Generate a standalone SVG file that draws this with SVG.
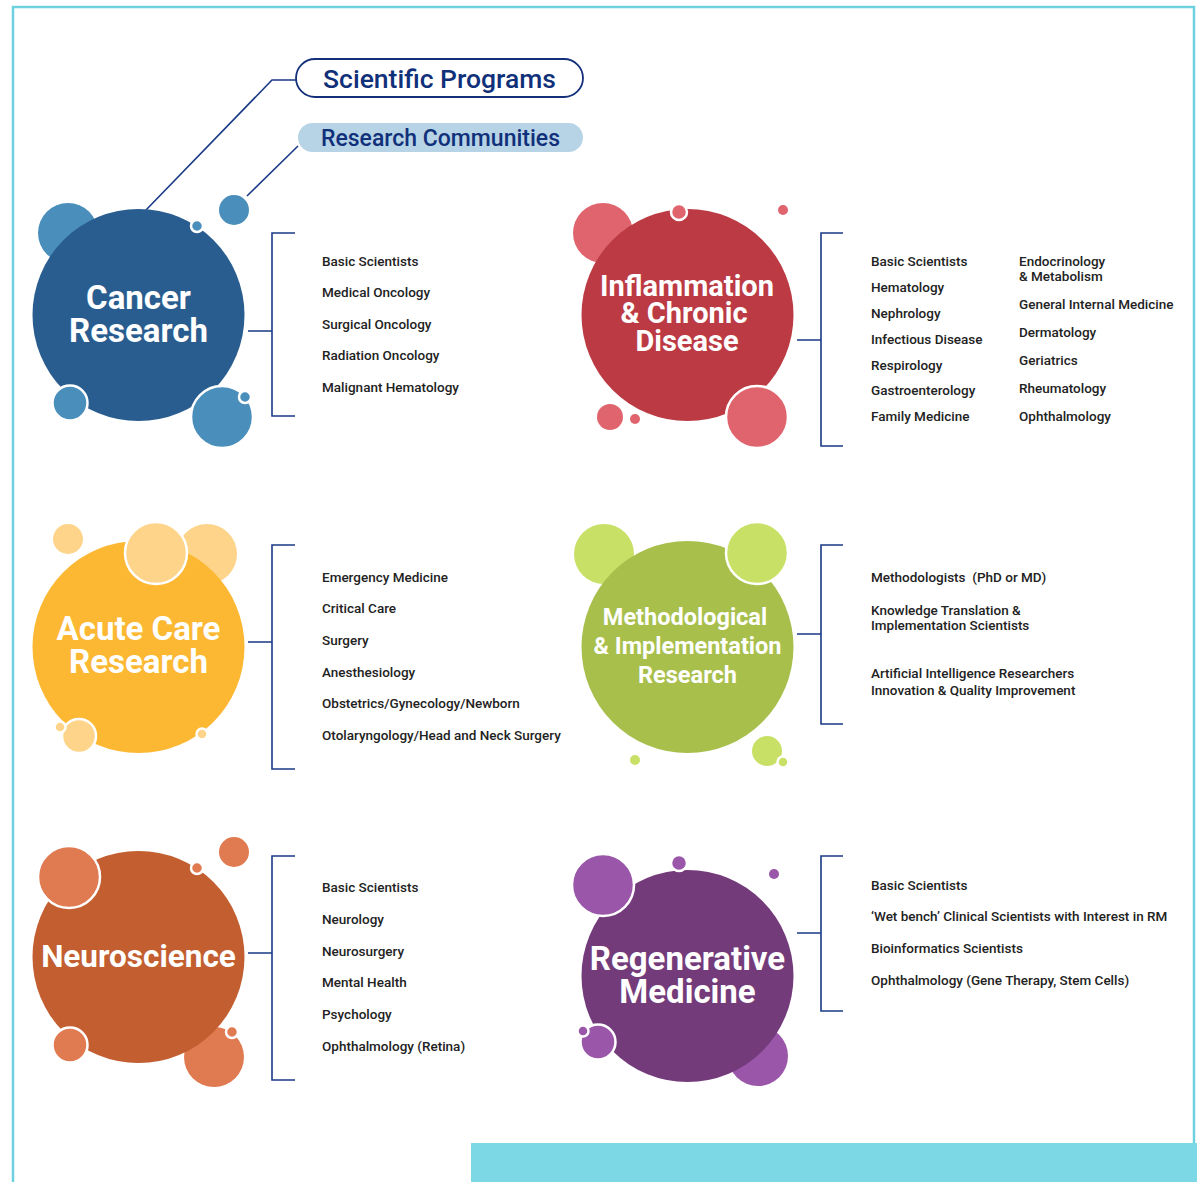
<svg xmlns="http://www.w3.org/2000/svg" width="1197" height="1182" viewBox="0 0 1197 1182">
<style>
.item{font-family:Roboto,"Liberation Sans",sans-serif;font-weight:500;font-size:13.5px;fill:#222;}
.title{font-family:Roboto,"Liberation Sans",sans-serif;font-weight:700;fill:#fff;text-anchor:middle;}
.br{fill:none;stroke:#1a3a86;stroke-width:1.6;}
.ws{stroke:#fff;stroke-width:2.5;}
.blue{fill:#4a8ebc;} .red{fill:#e0646e;} .yel{fill:#fdd48a;} .grn{fill:#c9e066;} .org{fill:#e07a50;} .pur{fill:#9a56a8;}
</style>
<rect width="1197" height="1182" fill="#fff"/>
<path d="M13 1182 V7 H1194 V1182" fill="none" stroke="#6ed1df" stroke-width="2.5"/>
<rect x="471" y="1143" width="726" height="39" fill="#7dd8e5"/>

<g id="legend">
  <g id="scientific-programs">
    <rect x="296" y="59" width="287" height="38" rx="19" fill="#fff" stroke="#14307a" stroke-width="1.8"/>
    <text x="439.5" y="87.5" text-anchor="middle" font-family="Roboto,'Liberation Sans',sans-serif" font-weight="500" font-size="26.5" fill="#10307a">Scientific Programs</text>
  </g>
  <g id="research-communities">
    <rect x="298" y="123" width="285" height="29" rx="14.5" fill="#b7d3e6"/>
    <text x="440.5" y="145.5" text-anchor="middle" font-family="Roboto,'Liberation Sans',sans-serif" font-weight="500" font-size="23" fill="#10307a">Research Communities</text>
  </g>
</g>

<g id="connectors" class="br">
  <path d="M146 210 L272 80 H296"/>
  <path d="M247 196 L298 146"/>
  <path d="M248 331 H272 M295 233 H272 V416 H295"/>
  <path d="M797 340 H821 M843 233 H821 V446 H843"/>
  <path d="M248 642 H272 M295 545 H272 V769 H295"/>
  <path d="M797 634 H821 M843 545 H821 V724 H843"/>
  <path d="M248 953 H272 M295 856 H272 V1080 H295"/>
  <path d="M797 933 H821 M843 856 H821 V1011 H843"/>
</g>

<g id="cancer-research">
  <circle class="blue" cx="68" cy="233" r="30"/>
  <circle class="blue" cx="234" cy="210" r="15"/>
  <circle cx="138.5" cy="315" r="106" fill="#2a5d8f"/>
  <circle class="blue ws" cx="197" cy="226" r="6"/>
  <circle class="blue ws" cx="70" cy="403" r="17.5"/>
  <circle class="blue ws" cx="222" cy="417" r="31"/>
  <circle class="blue ws" cx="245" cy="397" r="6"/>
  <text class="title" font-size="33" x="138.5" y="309">Cancer</text>
  <text class="title" font-size="33" x="138.5" y="342">Research</text>
  <text class="item" x="322" y="266">Basic Scientists</text>
  <text class="item" x="322" y="297">Medical Oncology</text>
  <text class="item" x="322" y="329">Surgical Oncology</text>
  <text class="item" x="322" y="360">Radiation Oncology</text>
  <text class="item" x="322" y="392">Malignant Hematology</text>
</g>

<g id="inflammation-chronic-disease">
  <circle class="red" cx="603" cy="233" r="30"/>
  <circle class="red" cx="783" cy="210" r="5"/>
  <circle class="red" cx="610" cy="417" r="13"/>
  <circle class="red" cx="635" cy="419" r="5"/>
  <circle cx="687.5" cy="315" r="106" fill="#bc3a43"/>
  <circle class="red ws" cx="679" cy="212" r="8"/>
  <circle class="red ws" cx="757" cy="417" r="31"/>
  <text class="title" font-size="29" x="687" y="296">Inflammation</text>
  <text class="title" font-size="29" x="684" y="323">&amp; Chronic</text>
  <text class="title" font-size="29" x="687" y="351">Disease</text>
  <text class="item" x="871" y="266">Basic Scientists</text>
  <text class="item" x="871" y="292">Hematology</text>
  <text class="item" x="871" y="318">Nephrology</text>
  <text class="item" x="871" y="344">Infectious Disease</text>
  <text class="item" x="871" y="370">Respirology</text>
  <text class="item" x="871" y="395">Gastroenterology</text>
  <text class="item" x="871" y="421">Family Medicine</text>
  <text class="item" x="1019" y="266">Endocrinology</text>
  <text class="item" x="1019" y="281">&amp; Metabolism</text>
  <text class="item" x="1019" y="309">General Internal Medicine</text>
  <text class="item" x="1019" y="337">Dermatology</text>
  <text class="item" x="1019" y="365">Geriatrics</text>
  <text class="item" x="1019" y="393">Rheumatology</text>
  <text class="item" x="1019" y="421">Ophthalmology</text>
</g>

<g id="acute-care-research">
  <circle class="yel" cx="68" cy="539" r="15"/>
  <circle class="yel" cx="207" cy="554" r="30"/>
  <circle cx="138.5" cy="647" r="106" fill="#fcb833"/>
  <circle class="yel ws" cx="156" cy="553" r="31"/>
  <circle class="yel ws" cx="79" cy="736" r="17"/>
  <circle class="yel ws" cx="60" cy="727" r="5.5"/>
  <circle class="yel ws" cx="202" cy="734" r="5.5"/>
  <text class="title" font-size="33" x="138.5" y="640">Acute Care</text>
  <text class="title" font-size="33" x="138.5" y="673">Research</text>
  <text class="item" x="322" y="582">Emergency Medicine</text>
  <text class="item" x="322" y="613">Critical Care</text>
  <text class="item" x="322" y="645">Surgery</text>
  <text class="item" x="322" y="677">Anesthesiology</text>
  <text class="item" x="322" y="708">Obstetrics/Gynecology/Newborn</text>
  <text class="item" x="322" y="740">Otolaryngology/Head and Neck Surgery</text>
</g>

<g id="methodological-implementation-research">
  <circle class="grn" cx="604" cy="554" r="30"/>
  <circle class="grn" cx="635" cy="760" r="5"/>
  <circle class="grn" cx="767" cy="751" r="15"/>
  <circle cx="687.5" cy="647" r="106" fill="#a8bf4c"/>
  <circle class="grn ws" cx="757" cy="553" r="31"/>
  <circle class="grn ws" cx="783" cy="762" r="5.5"/>
  <text class="title" font-size="23.5" x="685" y="625">Methodological</text>
  <text class="title" font-size="23.5" x="687.5" y="654">&amp; Implementation</text>
  <text class="title" font-size="23.5" x="687.5" y="683">Research</text>
  <text class="item" x="871" y="582" xml:space="preserve">Methodologists  (PhD or MD)</text>
  <text class="item" x="871" y="615">Knowledge Translation &amp;</text>
  <text class="item" x="871" y="630">Implementation Scientists</text>
  <text class="item" x="871" y="678">Artificial Intelligence Researchers</text>
  <text class="item" x="871" y="695">Innovation &amp; Quality Improvement</text>
</g>

<g id="neuroscience">
  <circle class="org" cx="234" cy="852" r="15"/>
  <circle class="org" cx="214" cy="1057" r="30"/>
  <circle cx="138.5" cy="957" r="106" fill="#c25e2f"/>
  <circle class="org ws" cx="69" cy="877" r="31"/>
  <circle class="org ws" cx="197" cy="868" r="6"/>
  <circle class="org ws" cx="70" cy="1045" r="17.5"/>
  <circle class="org ws" cx="232" cy="1032" r="6"/>
  <text class="title" font-size="31.5" x="138.5" y="967">Neuroscience</text>
  <text class="item" x="322" y="892">Basic Scientists</text>
  <text class="item" x="322" y="924">Neurology</text>
  <text class="item" x="322" y="956">Neurosurgery</text>
  <text class="item" x="322" y="987">Mental Health</text>
  <text class="item" x="322" y="1019">Psychology</text>
  <text class="item" x="322" y="1051">Ophthalmology (Retina)</text>
</g>

<g id="regenerative-medicine">
  <circle class="pur" cx="774" cy="874" r="5"/>
  <circle class="pur" cx="758" cy="1056" r="30"/>
  <circle cx="687.5" cy="976" r="106" fill="#743b7b"/>
  <circle class="pur ws" cx="603" cy="885" r="31"/>
  <circle class="pur ws" cx="679" cy="863" r="8"/>
  <circle class="pur ws" cx="598" cy="1042" r="17.5"/>
  <circle class="pur ws" cx="583" cy="1031" r="5.5"/>
  <text class="title" font-size="33" x="687.5" y="970">Regenerative</text>
  <text class="title" font-size="33" x="687.5" y="1003">Medicine</text>
  <text class="item" x="871" y="890">Basic Scientists</text>
  <text class="item" x="871" y="921">‘Wet bench’ Clinical Scientists with Interest in RM</text>
  <text class="item" x="871" y="953">Bioinformatics Scientists</text>
  <text class="item" x="871" y="985">Ophthalmology (Gene Therapy, Stem Cells)</text>
</g>
</svg>
